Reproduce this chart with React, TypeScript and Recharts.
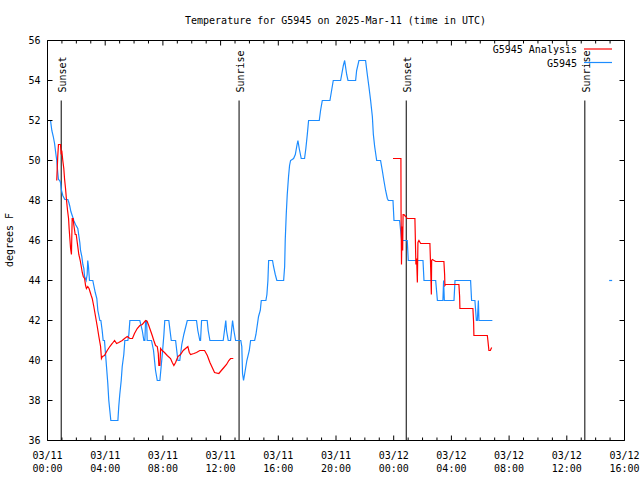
import { ComposedChart, Line, XAxis, YAxis, ReferenceLine } from 'recharts';

// station readings (hours after 03/11 00:00 UTC, degrees F)
const stationHours = [
  0.07, 0.21, 0.3, 0.4, 0.49, 0.55, 0.64, 0.71, 0.76, 0.85, 0.9, 0.97, 1.06, 1.2, 1.41, 1.48, 1.55, 1.62,
  1.78, 1.82, 1.94, 2.1, 2.17, 2.24, 2.29, 2.38, 2.45, 2.52, 2.57, 2.68, 2.75, 2.79, 2.84, 2.91, 3.14, 3.21,
  3.31, 3.42, 3.49, 3.63, 3.7, 3.79, 3.86, 3.95, 4.02, 4.09, 4.18, 4.25, 4.32, 4.39, 4.88, 4.94, 5.01, 5.11,
  5.18, 5.29, 5.36, 5.57, 5.64, 5.71, 6.4, 6.57, 6.68, 6.75, 6.8, 6.87, 6.91, 7.21, 7.35, 7.49, 7.61, 7.79,
  7.88, 7.98, 8.07, 8.13, 8.41, 8.58, 8.88, 9.04, 9.17, 9.31, 9.45, 9.69, 10.33, 10.42, 10.56, 10.61, 10.68,
  11.07, 11.14, 11.26, 12.18, 12.27, 12.36, 12.41, 12.53, 12.69, 12.76, 12.83, 12.92, 13.04, 13.4, 13.47,
  13.52, 13.59, 13.66, 13.82, 13.99, 14.08, 14.36, 14.45, 14.63, 14.75, 14.82, 15.14, 15.21, 15.28, 15.33,
  15.6, 15.67, 15.79, 15.9, 16.37, 16.44, 16.48, 16.55, 16.62, 16.71, 16.78, 16.85, 17.06, 17.18, 17.29,
  17.36, 17.45, 17.59, 17.82, 17.91, 18.01, 18.1, 18.84, 18.93, 19.05, 19.58, 19.81, 20.32, 20.51, 20.6,
  20.74, 20.83, 21.36, 21.43, 21.59, 22.05, 22.17, 22.28, 22.4, 22.52, 22.59, 22.68, 22.82, 23.09, 23.21,
  23.32, 23.44, 23.56, 23.63, 23.95, 24.02, 24.41, 24.55, 24.94, 25.01, 26.03, 26.1, 26.91, 27.03, 27.41,
  27.46, 27.51, 28.18, 28.25, 29.33, 29.4, 29.63, 29.73, 29.8, 29.87, 29.91, 30.84,
];
const stationTemps = [
  52, 52, 51.5, 51.2, 50.85, 50.5, 50, 49.4, 49.05, 49, 48.9, 48.5, 48.25, 48.05, 48.05, 47.9, 47.7, 47.45,
  47.1, 47, 46.8, 46.6, 46.25, 45.9, 45.5, 45.2, 44.8, 44.6, 44.2, 44, 44.3, 45, 44.7, 44, 44, 43.75,
  43.4, 43.1, 42.5, 42, 42, 41.5, 41, 41, 40.35, 39.7, 38.85, 38, 37.5, 37, 37, 37.7, 38.3, 39,
  39.7, 40.3, 41, 41, 41.3, 42, 42, 41.5, 41, 41, 42, 42, 41, 41, 40.5, 39.5, 39, 39,
  39.7, 40.5, 41.3, 42, 42, 41, 41, 40, 40, 40.8, 41.3, 42, 42, 41.5, 41, 41, 42,
  42, 41.5, 41, 41, 41.5, 42, 41.5, 41, 41, 41.5, 42, 41.5, 41, 41, 40.7,
  39.35, 39, 39.3, 40, 40.5, 41, 41, 41.3, 42.2, 42.5, 43, 43, 43.3, 44, 45,
  45, 44.7, 44.3, 44, 44, 44.7, 46, 47.3, 48.3, 49.2, 49.75, 50, 50.1, 50.3, 50.75,
  51, 50.6, 50.1, 50.1, 50.6, 51.3, 52, 52, 52.5, 53, 53, 54, 54, 54.75, 55,
  54.3, 54, 54, 54.5, 55, 55, 54.3, 53.7, 53, 52.2, 51.3, 50.7, 50, 50, 49.5,
  49, 48.5, 48.1, 48, 48, 47, 47, 46, 46, 45, 45, 44, 44, 43, 43,
  44, 43, 43, 44, 44, 43, 43, 42, 42, 43, 42, 42,
];
const strayHours = [39.04];
const strayTemps = [44];

// analysis, first run
const analysisHoursA = [
  0.64, 0.71, 0.76, 0.9, 0.95, 0.99, 1.06, 1.13, 1.18, 1.25, 1.32, 1.39, 1.46, 1.5, 1.55, 1.6, 1.66, 1.71,
  1.78, 1.82, 1.92, 1.99, 2.1, 2.17, 2.27, 2.34, 2.41, 2.48, 2.57, 2.64, 2.7, 2.79, 2.88, 3.03, 3.1, 3.21,
  3.33, 3.45, 3.56, 3.68, 3.74, 3.81, 3.95, 4.14, 4.32, 4.49, 4.65, 4.79, 4.94, 5.18, 5.34, 5.53, 5.71, 5.89,
  6.03, 6.22, 6.4, 6.57, 6.8, 6.91, 7.02, 7.14, 7.26, 7.37, 7.49, 7.61, 7.68, 7.72, 7.79, 7.84, 7.95, 8.11,
  8.3, 8.53, 8.65, 8.76, 8.88, 9.04, 9.22, 9.41, 9.57, 9.73, 9.83, 9.92, 10.15, 10.33, 10.56, 10.89, 11.08,
  11.26, 11.42, 11.58, 11.88, 12.05, 12.23, 12.41, 12.57, 12.69, 12.88,
];
const analysisTempsA = [
  49, 50.2, 50.8, 50.8, 50.3, 50.5, 50, 49.6, 49.1, 48.6, 48, 47.5, 47.1, 46.6, 46.1, 45.6, 45.3, 47.1,
  47.1, 46.8, 46.3, 46.3, 45.7, 45.3, 45, 44.7, 44.4, 44.2, 44.1, 43.75, 43.6, 43.7, 43.6, 43.25, 43.1, 42.7,
  42.2, 41.7, 41.2, 40.7, 40.1, 40.2, 40.25, 40.5, 40.7, 40.85, 41, 40.85, 40.9, 41, 41.1, 41.2, 41.1, 41.1,
  41.35, 41.6, 41.75, 41.8, 42, 41.95, 41.75, 41.5, 41.25, 41, 40.75, 40.7, 40.35, 39.75, 39.75, 40.6, 40.5, 40.4,
  40.25, 40.1, 39.9, 39.75, 39.9, 40.2, 40.3, 40.5, 40.6, 40.7, 40.4, 40.3, 40.35, 40.4, 40.5, 40.5, 40.25,
  39.9, 39.65, 39.4, 39.35, 39.5, 39.65, 39.8, 40, 40.1, 40.1,
];

// analysis, second run
const analysisHoursB = [
  23.95, 24.5, 24.51, 24.54, 24.58, 24.62, 24.65, 24.71, 24.83, 24.94, 25.47, 25.54, 25.59, 25.64, 25.68,
  25.75, 25.87, 26.51, 26.56, 26.61, 26.63, 26.68, 26.91, 27.48, 27.53, 27.55, 27.6, 28.52, 28.57, 28.59,
  29.49, 29.54, 29.56, 30.49, 30.53, 30.6, 30.7, 30.79,
];
const analysisTempsB = [
  50.1, 50.1, 47.5, 44.8, 46.7, 45.5, 47.3, 47.3, 47.2, 47.1, 47.1, 44.8, 45.1, 43.9, 45.9,
  46, 45.85, 45.85, 44.7, 43.3, 45, 45.05, 44.95, 44.95, 44.3, 43.75, 43.8, 43.8, 43.2, 42.6,
  42.6, 41.9, 41.25, 41.25, 41, 40.5, 40.5, 40.65,
];

const eventHours = [0.95, 13.28, 24.87, 37.25];
const eventNames = ['Sunset', 'Sunrise', 'Sunset', 'Sunrise'];

const hourTicks = [
  0, 1, 2, 3, 4, 5, 6, 7, 8, 9, 10, 11, 12, 13, 14, 15, 16, 17, 18, 19, 20,
  21, 22, 23, 24, 25, 26, 27, 28, 29, 30, 31, 32, 33, 34, 35, 36, 37, 38, 39, 40,
];
const labelHours = [0, 4, 8, 12, 16, 20, 24, 28, 32, 36, 40];
const labelDates = ['03/11', '03/11', '03/11', '03/11', '03/11', '03/11', '03/12', '03/12', '03/12', '03/12', '03/12'];
const labelTimes = ['00:00', '04:00', '08:00', '12:00', '16:00', '20:00', '00:00', '04:00', '08:00', '12:00', '16:00'];
const tempTicks = [36, 38, 40, 42, 44, 46, 48, 50, 52, 54, 56];

const FONT = '"DejaVu Sans Mono", monospace';
const RED = '#ff0000';
const BLUE = '#1c8cff';

const toRows = (hours: number[], temps: number[]) => hours.map((t, i) => ({ t, v: temps[i] }));
const station = toRows(stationHours, stationTemps);
const stray = toRows(strayHours, strayTemps);
const analysisA = toRows(analysisHoursA, analysisTempsA);
const analysisB = toRows(analysisHoursB, analysisTempsB);

function BottomTick({ x, y, payload }: any) {
  const i = labelHours.indexOf(payload.value);
  return (
    <g>
      <line x1={x} x2={x} y1={y} y2={y - (i >= 0 ? 5 : 3)} stroke="#000" />
      {i >= 0 && (
        <text x={x} y={y} textAnchor="middle" fontFamily={FONT} fontSize={10} fill="#000">
          <tspan x={x} dy={18}>{labelDates[i]}</tspan>
          <tspan x={x} dy={13}>{labelTimes[i]}</tspan>
        </text>
      )}
    </g>
  );
}

function TopTick({ x, y, payload }: any) {
  const major = labelHours.includes(payload.value);
  return <line x1={x} x2={x} y1={y} y2={y + (major ? 5 : 3)} stroke="#000" />;
}

function LeftTick({ x, y, payload }: any) {
  return (
    <g>
      <line x1={x} x2={x + 5} y1={y} y2={y} stroke="#000" />
      <text x={x - 7} y={y + 3.7} textAnchor="end" fontFamily={FONT} fontSize={10} fill="#000">
        {payload.value}
      </text>
    </g>
  );
}

function RightTick({ x, y }: any) {
  return <line x1={x} x2={x - 5} y1={y} y2={y} stroke="#000" />;
}

function EventLabel({ viewBox, name }: any) {
  const x = viewBox.x + 5;
  const y = viewBox.y - 8;
  return (
    <text x={x} y={y} transform={`rotate(-90 ${x} ${y})`} fontFamily={FONT} fontSize={10} fill="#000">
      {name}
    </text>
  );
}

export default function App() {
  return (
    <div style={{ position: 'absolute', left: 0, top: 0, width: 640, height: 480, background: '#fff' }}>
      <ComposedChart
        width={640}
        height={480}
        margin={{ top: 39.5, right: 14.5, bottom: 0, left: 7.5 }}
      >
        <XAxis
          dataKey="t"
          type="number"
          domain={[0, 40]}
          ticks={hourTicks}
          interval={0}
          allowDataOverflow
          height={39.5}
          tickSize={0}
          tickMargin={0}
          tickLine={false}
          axisLine={{ stroke: '#000' }}
          tick={(p: any) => <BottomTick {...p} />}
        />
        <XAxis
          xAxisId="top"
          orientation="top"
          dataKey="t"
          type="number"
          domain={[0, 40]}
          ticks={hourTicks}
          interval={0}
          allowDataOverflow
          height={1}
          tickSize={0}
          tickMargin={0}
          tickLine={false}
          axisLine={{ stroke: '#000' }}
          tick={(p: any) => <TopTick {...p} />}
        />
        <YAxis
          type="number"
          domain={[36, 56]}
          ticks={tempTicks}
          interval={0}
          allowDataOverflow
          width={40}
          tickSize={0}
          tickMargin={0}
          tickLine={false}
          axisLine={{ stroke: '#000' }}
          tick={(p: any) => <LeftTick {...p} />}
        />
        <YAxis
          yAxisId="right"
          orientation="right"
          type="number"
          domain={[36, 56]}
          ticks={tempTicks}
          interval={0}
          allowDataOverflow
          width={1}
          tickSize={0}
          tickMargin={0}
          tickLine={false}
          axisLine={{ stroke: '#000' }}
          tick={(p: any) => <RightTick {...p} />}
        />
        {eventHours.map((h, i) => (
          <ReferenceLine
            key={i}
            segment={[{ x: h, y: 36 }, { x: h, y: 53 }]}
            stroke="#000"
            strokeWidth={1}
            label={<EventLabel name={eventNames[i]} />}
          />
        ))}
        <Line data={station} dataKey="v" type="linear" stroke={BLUE} strokeWidth={1.2} dot={false} isAnimationActive={false} />
        <Line
          data={stray}
          dataKey="v"
          type="linear"
          stroke={BLUE}
          isAnimationActive={false}
          dot={(p: any) => <rect key="s" x={p.cx - 1.5} y={p.cy - 0.6} width={3} height={1.2} fill={BLUE} />}
        />
        <Line data={analysisA} dataKey="v" type="linear" stroke={RED} strokeWidth={1.2} dot={false} isAnimationActive={false} />
        <Line data={analysisB} dataKey="v" type="linear" stroke={RED} strokeWidth={1.2} dot={false} isAnimationActive={false} />
      </ComposedChart>
      <svg width={640} height={480} style={{ position: 'absolute', left: 0, top: 0, pointerEvents: 'none' }}>
        <text x={335.5} y={23.5} textAnchor="middle" fontFamily={FONT} fontSize={10} fill="#000">
          Temperature for G5945 on 2025-Mar-11 (time in UTC)
        </text>
        <text x={13} y={240} textAnchor="middle" transform="rotate(-90 13 240)" fontFamily={FONT} fontSize={10} fill="#000">
          degrees F
        </text>
        <text x={577} y={53} textAnchor="end" fontFamily={FONT} fontSize={10} fill="#000">G5945 Analysis</text>
        <line x1={584} x2={612} y1={49} y2={49} stroke={RED} strokeWidth={1.2} />
        <text x={577} y={66.5} textAnchor="end" fontFamily={FONT} fontSize={10} fill="#000">G5945</text>
        <line x1={584} x2={612} y1={62.5} y2={62.5} stroke={BLUE} strokeWidth={1.2} />
      </svg>
    </div>
  );
}
